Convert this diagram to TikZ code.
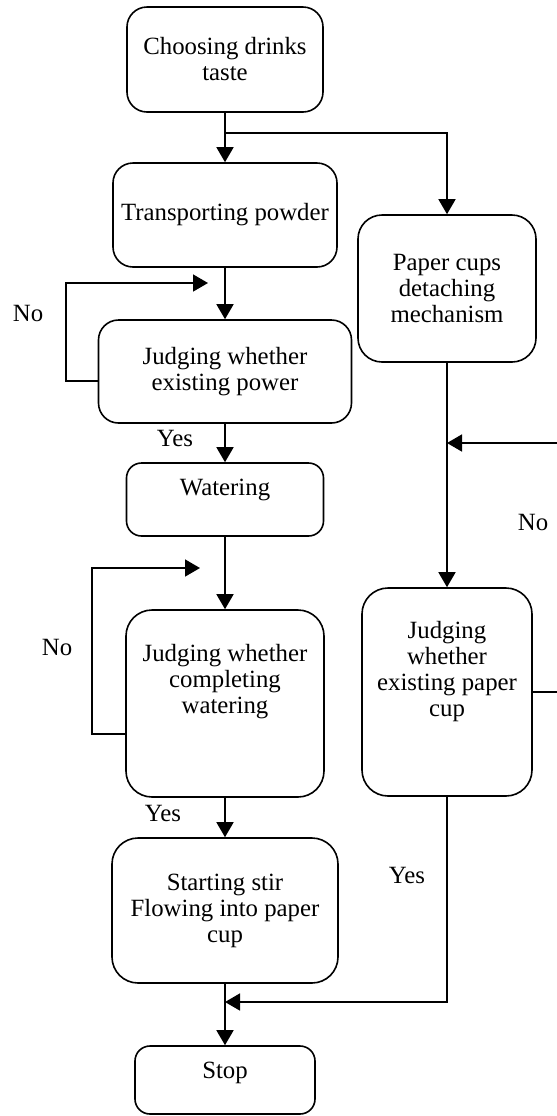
\documentclass[tikz,border=0pt]{standalone}
\usepackage{fontspec}
\setmainfont{Liberation Serif}
\usetikzlibrary{arrows.meta}

\begin{document}
\begin{tikzpicture}[x=0.5pt,y=-0.5pt,
        every node/.style={font=\fontsize{12.4}{13}\selectfont},
        box/.style={draw, line width=0.8pt, rounded corners=10pt, align=center, inner sep=0pt},
        arr/.style={line width=0.8pt, -{Triangle[length=7.5pt,width=8.5pt]}}]
            \useasboundingbox (0,0) rectangle (557,1116);
            % left column
            \node[box, minimum width=98pt, minimum height=52.5pt] (choose) at (225,59.5) {Choosing drinks\\taste};
            \node[box, minimum width=112pt, minimum height=52pt] (powder) at (225,215) {Transporting powder};
            \node[box, minimum width=126.5pt, minimum height=51.5pt] (power) at (225,371.5) {Judging whether\\existing power};
            \node[box, rounded corners=7.5pt, minimum width=98.5pt, minimum height=36.5pt,
                label={[yshift=5pt]center:Watering}] (water) at (225,499.5) {};
            \node[box, rounded corners=13pt, minimum width=99pt, minimum height=93.5pt,
                label={[yshift=11pt,align=center]center:{Judging whether\\completing\\watering}}] (judgeWater) at (225,703.5) {};
            \node[box, rounded corners=13pt, minimum width=113pt, minimum height=72.5pt] (stir) at (225,910.5) {Starting stir\\Flowing into paper\\cup};
            \node[box, rounded corners=7.5pt, minimum width=90pt, minimum height=34pt,
                label={[yshift=3.5pt]center:Stop}] (stop) at (225,1080) {};
            % right column
            \node[box, rounded corners=12pt, minimum width=89pt, minimum height=73.5pt] (cups) at (447,288.5) {Paper cups\\detaching\\mechanism};
            \node[box, rounded corners=13pt, minimum width=85pt, minimum height=104pt,
                label={[yshift=10pt,align=center]center:{Judging\\whether\\existing paper\\cup}}] (judgeCup) at (447,692) {};
            \coordinate (fork) at (225,133);
            \coordinate (noTipA) at (208,283);
            \coordinate (noTipB) at (200,568);
            \coordinate (cupIn) at (447,443);
            \coordinate (join) at (225,1002);
            \foreach \a/\b in {choose/powder, powder/power, power/water, water/judgeWater, judgeWater/stir, stir/stop, cups/judgeCup}
                \draw[arr] (\a.south) -- (\b.north);
            \draw[arr] (fork) -| (cups.north);
            \draw[arr] ([yshift=-4.75pt]power.west) -- ++(-15.75pt,0) |- (noTipA);
            \draw[arr] ([yshift=-15.25pt]judgeWater.west) -- ++(-16.5pt,0) |- (noTipB);
            \draw[arr] (judgeCup.east) -- ++(15pt,0) |- (cupIn);
            \draw[arr] (judgeCup.south) |- (join);
            % branch labels
            \node (noA) at (28,313) {No};
            \node (yesA) at (175,438) {Yes};
            \node (noB) at (57,647) {No};
            \node (yesB) at (163,813) {Yes};
            \node (noC) at (533,522) {No};
            \node (yesC) at (407,875) {Yes};
        \end{tikzpicture}
\end{document}
